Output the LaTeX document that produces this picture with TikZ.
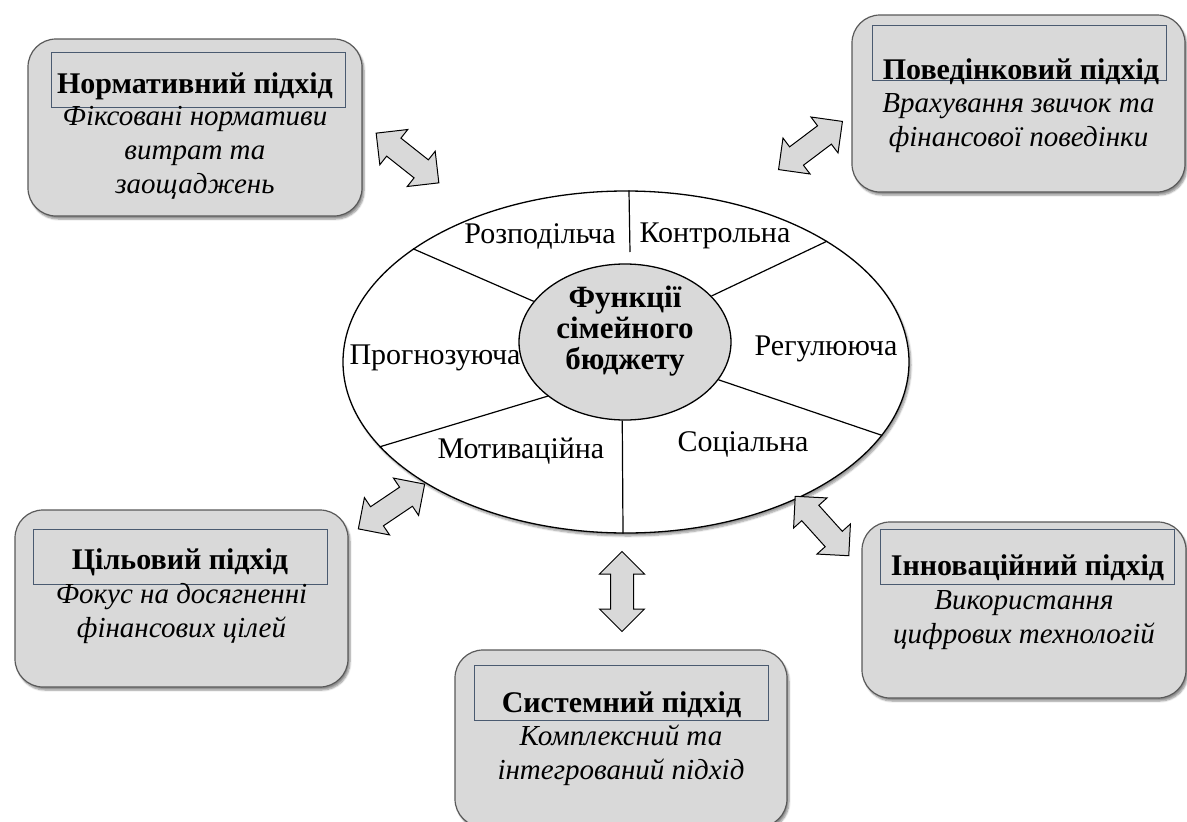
\documentclass[tikz,border=0pt]{standalone}
\usepackage{fontspec}
\setmainfont{Liberation Serif}
\usetikzlibrary{shapes.geometric,shapes.arrows,shadows.blur}

\definecolor{boxgray}{HTML}{D9D9D9}
\definecolor{frameblue}{HTML}{4A5A70}

\begin{document}
\begin{tikzpicture}[x=1pt,y=-1pt,
    approach/.style={rectangle, rounded corners=28pt, draw=black!65, line width=1.2pt,
      fill=boxgray, minimum width=334pt, minimum height=177pt,
      blur shadow={shadow xshift=2pt, shadow yshift=-3pt, shadow blur steps=6, shadow opacity=45}},
    headbox/.style={rectangle, draw=frameblue, line width=0.8pt, minimum width=294pt, minimum height=55pt, inner sep=0pt},
    headtext/.style={font=\fontsize{30}{34}\selectfont\bfseries},
    desc/.style={font=\fontsize{29}{34}\selectfont\itshape, align=center},
    sector/.style={font=\fontsize{30}{34}\selectfont},
    spoke/.style={line width=1.2pt},
    twoway/.style={double arrow, draw, line width=1pt, fill=boxgray, double arrow head extend=11pt,
      inner xsep=0pt, inner ysep=11pt, minimum height=80pt}]
  \useasboundingbox (0,0) rectangle (1187,822);

  % ring of functions
  \node[ellipse, draw, line width=1.3pt, fill=white, minimum width=566pt, minimum height=342pt,
    blur shadow={shadow xshift=2pt, shadow yshift=-3pt, shadow blur steps=6, shadow opacity=40}] (ring) at (626,362) {};
  \node[ellipse, draw, line width=1.3pt, fill=boxgray, minimum width=212pt, minimum height=156pt] (core) at (625,342) {};
  \node[align=center, font=\fontsize{31}{31}\selectfont\bfseries] (coretext) at (625,331) {Функції\\сімейного\\бюджету};

  \coordinate (topend) at (630,252);
  \draw[spoke] (ring.89) -- (topend);
  \draw[spoke] (core.28) -- (ring.31);
  \draw[spoke] (core.-22) -- (ring.-16);
  \draw[spoke] (core.-92) -- (ring.-91);
  \draw[spoke] (core.215) -- (ring.199);
  \draw[spoke] (core.156) -- (ring.152);

  \node[sector] (distr) at (540,236) {Розподільча};
  \node[sector] (control) at (715,236) {Контрольна};
  \node[sector] (regul) at (826,349) {Регулююча};
  \node[sector] (social) at (743,444) {Соціальна};
  \node[sector] (motiv) at (521,451) {Мотиваційна};
  \node[sector] (forecast) at (435,358) {Прогнозуюча};

  % approaches
  \node[approach] (normbox) at (195,127.5) {};
  \node[headbox] (normhead) at (198,79.5) {};
  \node[headtext] (normtitle) at (195,86) {Нормативний підхід};
  \node[desc] (normdesc) at (195,153) {Фіксовані нормативи\\витрат та\\заощаджень};

  \node[approach, minimum width=333pt] (behavbox) at (1018.5,103.5) {};
  \node[headbox] (behavhead) at (1019.5,52.5) {};
  \node[headtext] (behavtitle) at (1021,72) {Поведінковий підхід};
  \node[desc] (behavdesc) at (1018.5,123.5) {Врахування звичок та\\фінансової поведінки};

  \node[approach, minimum width=333pt] (goalbox) at (181.5,598.5) {};
  \node[headbox] (goalhead) at (180,556.5) {};
  \node[headtext] (goaltitle) at (180,562) {Цільовий підхід};
  \node[desc] (goaldesc) at (181.5,613.5) {Фокус на досягненні\\фінансових цілей};

  \node[approach, minimum width=332pt] (sysbox) at (621,738.5) {};
  \node[headbox] (syshead) at (621.5,692.5) {};
  \node[headtext] (systitle) at (621.5,705) {Системний підхід};
  \node[desc] (sysdesc) at (621,755) {Комплексний та\\інтегрований підхід};

  \node[approach, minimum width=324pt, minimum height=176pt] (innovbox) at (1024,610) {};
  \node[headbox] (innovhead) at (1027.5,557) {};
  \node[headtext] (innovtitle) at (1027.5,568) {Інноваційний підхід};
  \node[desc] (innovdesc) at (1024,620) {Використання\\цифрових технологій};

  % two-way links
  \node[twoway, rotate=-38.4] (normlink) at (407.5,158) {};
  \node[twoway, rotate=37] (behavlink) at (810.5,145.5) {};
  \node[twoway, rotate=34] (goallink) at (391.5,506.5) {};
  \node[twoway, rotate=90] (syslink) at (622,591.5) {};
  \node[twoway, rotate=-48] (innovlink) at (822,526) {};
\end{tikzpicture}
\end{document}
